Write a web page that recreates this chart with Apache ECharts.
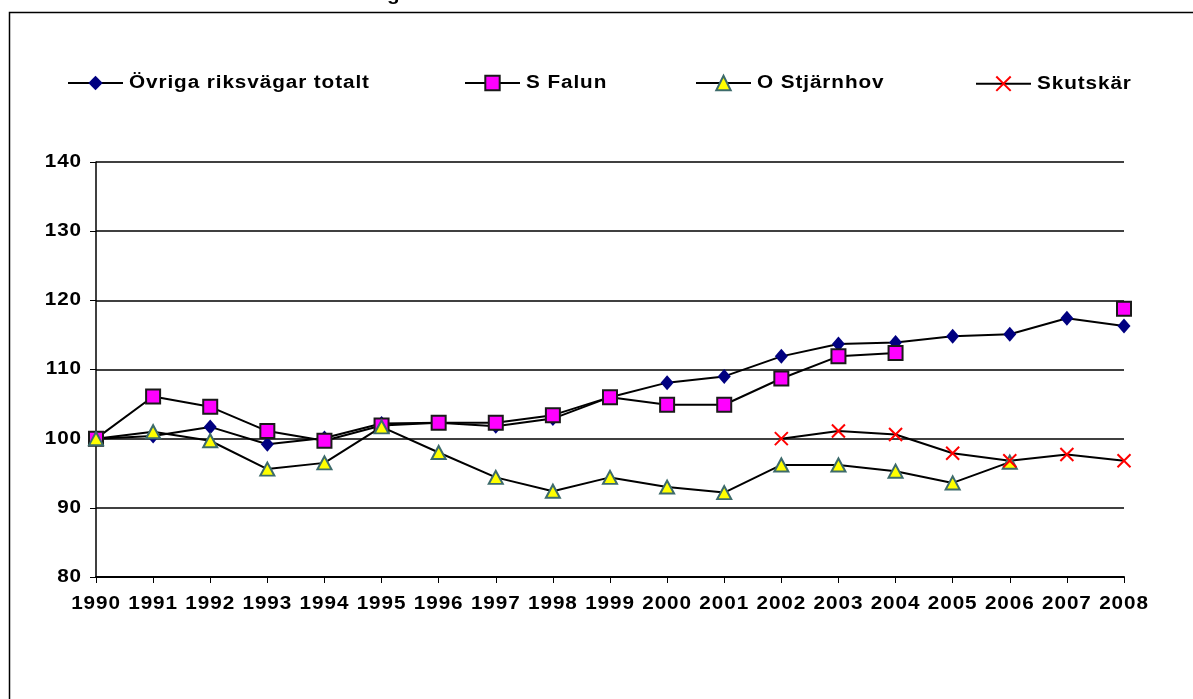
<!DOCTYPE html>
<html>
<head>
<meta charset="utf-8">
<script src="https://cdn.jsdelivr.net/npm/echarts@6/dist/echarts.min.js"></script>
<style>
  html, body { margin: 0; padding: 0; background: #fff; }
  #chart { width: 1193px; height: 699px; }
</style>
</head>
<body>
<div id="chart"></div>
<script>
// Traffic index (1990 = 100) per measuring point
const years = ['1990','1991','1992','1993','1994','1995','1996','1997','1998','1999',
               '2000','2001','2002','2003','2004','2005','2006','2007','2008'];
const ovrigaRiksvagar = [100, 100.4, 101.7, 99.2, 100.1, 102.2, 102.3, 101.8, 102.9, 106.0,
                         108.1, 109.0, 111.9, 113.7, 113.9, 114.8, 115.1, 117.4, 116.3];
const sFalun = [100, 106.1, 104.6, 101.1, 99.7, 101.9, 102.3, 102.3, 103.4, 106.0,
                104.9, 104.9, 108.7, 111.9, 112.4, null, null, null, 118.8];
const oStjarnhov = [100, 101.0, 99.7, 95.6, 96.5, 101.7, 98.0, 94.4, 92.4, 94.4,
                    93.0, 92.2, 96.2, 96.2, 95.3, 93.6, 96.6, null, null];
const skutskar = [null, null, null, null, null, null, null, null, null, null,
                  null, null, 100.0, 101.1, 100.6, 97.9, 96.8, 97.7, 96.8];
const yTicks = { min: 80, max: 140, step: 10 };

// Labels are set in a horizontally widened bold face with slight tracking;
// the widening is anchored at each text's own x, so left/center/right alignment holds.
const TEXT_STRETCH = 1.15;
const TRACKING = '0.8px';
const nativeFillText = CanvasRenderingContext2D.prototype.fillText;
CanvasRenderingContext2D.prototype.fillText = function (text, x, y, maxWidth) {
  this.save();
  this.letterSpacing = TRACKING;
  this.translate(x, y);
  this.scale(TEXT_STRETCH, 1);
  nativeFillText.call(this, text, 0, 0);
  this.restore();
};

const FONT = 'Liberation Sans, Arial, sans-serif';
const chart = echarts.init(document.getElementById('chart'), null, { renderer: 'canvas' });

const lineBase = { type: 'line', showAllSymbol: true, lineStyle: { color: '#000', width: 2 }, z: 3 };

const series = [
  Object.assign({}, lineBase, {
    name: 'Övriga riksvägar totalt', data: ovrigaRiksvagar,
    symbol: 'diamond', symbolSize: [13, 15],
    itemStyle: { color: '#000080', borderColor: '#000080', borderWidth: 0 }
  }),
  Object.assign({}, lineBase, {
    name: 'S Falun', data: sFalun,
    symbol: 'rect', symbolSize: 14,
    itemStyle: { color: '#ff00ff', borderColor: '#1a1a1a', borderWidth: 2 }
  }),
  Object.assign({}, lineBase, {
    name: 'O Stjärnhov', data: oStjarnhov,
    symbol: 'triangle', symbolSize: [14, 13],
    itemStyle: { color: '#ffff00', borderColor: '#3d6b6b', borderWidth: 2 }
  }),
  Object.assign({}, lineBase, {
    name: 'Skutskär', data: skutskar,
    symbol: 'path://M0,0L10,10M10,0L0,10', symbolSize: 13,
    itemStyle: { color: 'none', borderColor: '#ff0000', borderWidth: 2 }
  })
];

function legendAt(name, left) {
  return {
    data: [name], left: left, top: 74, padding: 0, itemWidth: 55, itemHeight: 18, itemGap: 0,
    textStyle: { fontFamily: FONT, fontWeight: 'bold', fontSize: 18, color: '#000', padding: [0, 0, 0, 1] }
  };
}

chart.setOption({
  animation: false,
  backgroundColor: '#fff',
  grid: { left: 96, right: 69, top: 162, bottom: 122 },
  legend: [
    legendAt('Övriga riksvägar totalt', 67),
    legendAt('S Falun', 464),
    legendAt('O Stjärnhov', 695),
    legendAt('Skutskär', 975)
  ],
  xAxis: {
    type: 'category', data: years, boundaryGap: false,
    axisLine: { lineStyle: { color: '#000', width: 2 } },
    axisTick: { show: true, length: 6, lineStyle: { color: '#000', width: 1 } },
    axisLabel: { fontFamily: FONT, fontWeight: 'bold', fontSize: 18, color: '#000', margin: 18 },
    splitLine: { show: false }
  },
  yAxis: {
    type: 'value', min: yTicks.min, max: yTicks.max, interval: yTicks.step,
    axisLine: { show: true, lineStyle: { color: '#000', width: 1.5 } },
    axisTick: { show: true, length: 6, lineStyle: { color: '#000', width: 1 } },
    axisLabel: { fontFamily: FONT, fontWeight: 'bold', fontSize: 18, color: '#000', margin: 14 },
    splitLine: { show: true, lineStyle: { color: '#000', width: 1.5 } }
  },
  series: series,
  graphic: [
    { type: 'rect', silent: true, z: -1,
      shape: { x: 9.5, y: 12.5, width: 1300, height: 800 },
      style: { fill: 'none', stroke: '#000', lineWidth: 1.5 } },
    { type: 'text', silent: true, x: 387, y: 4,
      style: { text: 'g', font: 'bold 18px ' + FONT, fill: '#000', verticalAlign: 'bottom' } }
  ]
});
</script>
</body>
</html>
